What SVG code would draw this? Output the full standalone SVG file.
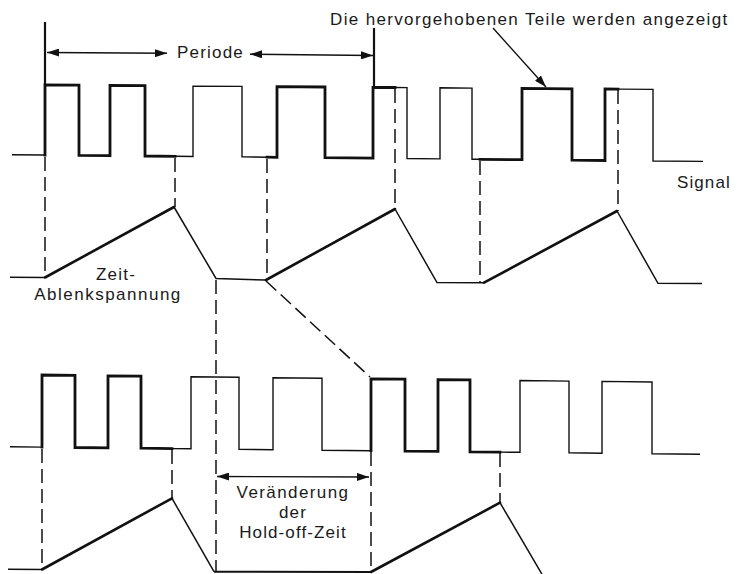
<svg xmlns="http://www.w3.org/2000/svg" width="737" height="574" viewBox="0 0 737 574">
<style>
.thick{fill:none;stroke:#111;stroke-width:2.8;stroke-linejoin:miter;stroke-linecap:square}
.thin{fill:none;stroke:#111;stroke-width:1.4;stroke-linejoin:miter}
.rise{fill:none;stroke:#111;stroke-width:2.6;stroke-linecap:round}
.fall{fill:none;stroke:#111;stroke-width:1.5}
.dash{fill:none;stroke:#111;stroke-width:1.5;stroke-dasharray:14 6}
.arr{fill:none;stroke:#111;stroke-width:1.4}
.bar{fill:none;stroke:#111;stroke-width:2.2}
text{font-family:"Liberation Sans",Arial,sans-serif;font-size:17px;fill:#1a1a1a;letter-spacing:1.2px}
</style>
<defs>
<marker id="ah" viewBox="0 0 12 8" refX="12" refY="4" markerWidth="12" markerHeight="8" orient="auto-start-reverse" markerUnits="userSpaceOnUse">
<path d="M0,0 L12,4 L0,8 z" fill="#111"/>
</marker>
</defs>

<g id="signal-top">
<line class="thin" x1="12" y1="154.7" x2="45" y2="155"/>
<polyline class="thick" points="45,155 45,85 79,85.2 79,155.3 110,155.6 110,85.5 145,85.7 145,156 175,156.3"/>
<polyline class="thin" points="175,156.3 193,156.5 193,86.1 242,86.4 242,156.9 267,157.2"/>
<polyline class="thick" points="267,157.2 277,157.3 277,86.7 325,87 325,157.7 373,158.2 373,87.4 395,87.5"/>
<polyline class="thin" points="395,87.5 407,87.6 407,158.5 440,158.9 440,87.8 472,88.1 472,159.2 480,159.3"/>
<polyline class="thick" points="480,159.3 522,159.7 522,88.4 572,88.8 572,160.2 605,160.5 605,89 618,89.1"/>
<polyline class="thin" points="618,89.1 653,89.4 653,161 703,161.4"/>
</g>

<g id="ramp-top">
<line class="thin" x1="10" y1="277.3" x2="45" y2="277.5"/>
<line class="rise" x1="45" y1="277.5" x2="174" y2="207"/>
<polyline class="fall" points="174,207 216,278.5 266,280"/>
<line class="rise" x1="266" y1="280" x2="395" y2="209"/>
<polyline class="fall" points="395,209 437,282.5 484,282.7"/>
<line class="rise" x1="484" y1="282.7" x2="617" y2="211"/>
<polyline class="fall" points="617,211 658,283.3 702,283.5"/>
</g>

<g id="signal-bottom">
<line class="thin" x1="10" y1="446.7" x2="42" y2="447.1"/>
<polyline class="thick" points="42,447.1 42,375 75,375.4 75,447.5 108,447.9 108,375.8 141,376.1 141,448.2 172,448.6"/>
<polyline class="thin" points="172,448.6 191,448.8 191,376.7 239,377.3 239,449.3 273,449.7 273,377.7 322,378.2 322,450.2 371,450.7"/>
<polyline class="thick" points="371,450.7 371,378.8 405,379.2 405,451.1 438,451.4 438,379.6 470,379.9 470,451.8 500,452.1"/>
<polyline class="thin" points="500,452.1 520,452.3 520,380.5 569,381.1 569,452.8 602,453.2 602,381.4 652,382 652,453.7 700,454.3"/>
</g>

<g id="ramp-bottom">
<line class="thin" x1="8" y1="569.3" x2="42" y2="569.5"/>
<line class="rise" x1="42" y1="569.5" x2="172" y2="498.3"/>
<line class="fall" x1="172" y1="498.3" x2="214" y2="571.7"/>
<line class="fall" x1="214" y1="571.7" x2="371" y2="572" style="stroke-width:1.9"/>
<line class="rise" x1="371" y1="572" x2="500" y2="502.7"/>
<line class="fall" x1="500" y1="502.7" x2="543" y2="576"/>
</g>

<g id="connectors">
<line class="bar" x1="45" y1="22" x2="45" y2="86"/>
<line class="bar" x1="374" y1="28" x2="374" y2="88"/>
<line class="arr" x1="47" y1="52.5" x2="167" y2="53.3" marker-start="url(#ah)" marker-end="url(#ah)"/>
<line class="arr" x1="250" y1="54.2" x2="373" y2="55.5" marker-start="url(#ah)" marker-end="url(#ah)"/>
<line class="arr" x1="493" y1="28" x2="546" y2="87" marker-end="url(#ah)"/>
<line class="dash" x1="45" y1="157" x2="45" y2="277"/>
<line class="dash" x1="175" y1="158" x2="175" y2="207"/>
<line class="dash" x1="267" y1="159" x2="267" y2="280"/>
<line class="dash" x1="395" y1="89" x2="395" y2="209"/>
<line class="dash" x1="480" y1="161" x2="480" y2="282"/>
<line class="dash" x1="618" y1="90" x2="618" y2="211"/>
<line class="dash" x1="216" y1="280" x2="216" y2="572"/>
<line class="dash" x1="266" y1="281" x2="370" y2="377"/>
<line class="dash" x1="42" y1="449" x2="42" y2="569"/>
<line class="dash" x1="172" y1="450" x2="172" y2="498"/>
<line class="dash" x1="371" y1="452" x2="371" y2="571"/>
<line class="dash" x1="500" y1="453" x2="500" y2="502"/>
<line class="arr" x1="217" y1="476.5" x2="369" y2="477" marker-start="url(#ah)" marker-end="url(#ah)"/>
</g>

<g id="labels">
<text x="330" y="25" style="letter-spacing:1.35px">Die hervorgehobenen Teile werden angezeigt</text>
<text x="177" y="58">Periode</text>
<text x="677" y="188" style="letter-spacing:1.1px">Signal</text>
<text x="116" y="280" text-anchor="middle">Zeit-</text>
<text x="108" y="300" text-anchor="middle" style="letter-spacing:1.5px">Ablenkspannung</text>
<text x="293" y="498" text-anchor="middle" style="letter-spacing:1.4px">Veränderung</text>
<text x="293" y="518" text-anchor="middle">der</text>
<text x="293" y="538" text-anchor="middle" style="letter-spacing:1.1px">Hold-off-Zeit</text>
</g>
</svg>
